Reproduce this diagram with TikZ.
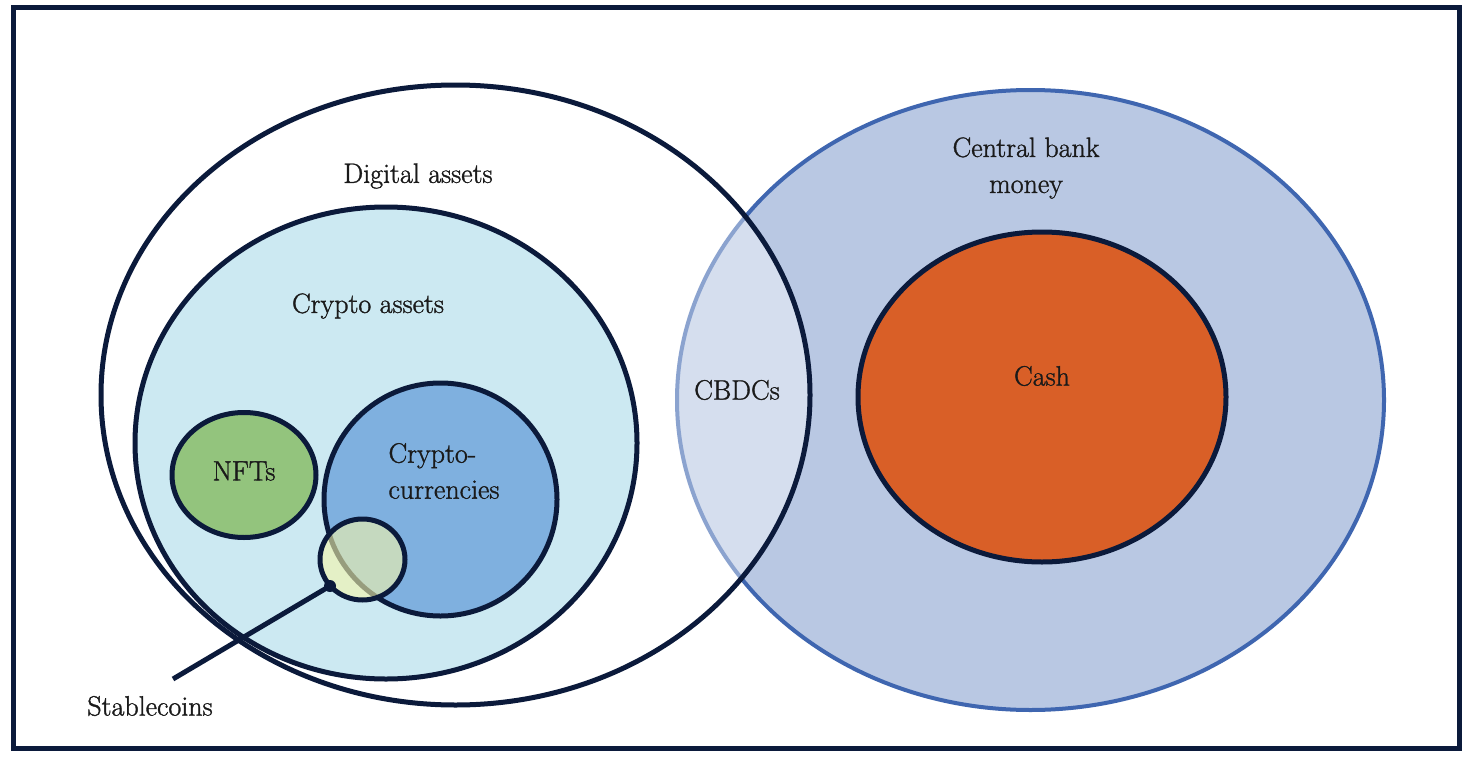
\documentclass[tikz,border=0pt]{standalone}
\usepackage{fontspec}
\newfontfamily\lmx{Latin Modern Roman}[FakeBold=1.2]
\usetikzlibrary{shapes.geometric}
\definecolor{navy}{HTML}{0B1A3B}
\definecolor{cbmfill}{HTML}{B9C8E3}
\definecolor{cbmline}{HTML}{3F66B0}
\definecolor{cryptofill}{HTML}{CCE9F2}
\definecolor{nftfill}{HTML}{93C47D}
\definecolor{ccfill}{HTML}{7FB0DF}
\definecolor{stablefill}{HTML}{F5F5AA}
\definecolor{cashfill}{HTML}{D95F27}
\definecolor{txt}{HTML}{1A1A1A}
\begin{document}
\begin{tikzpicture}[x=1pt,y=-1pt,
  blob/.style={ellipse, inner sep=0pt, outer sep=0pt, draw=navy, line width=5pt},
  lbl/.style={font=\lmx\fontsize{28}{36}\selectfont, text=txt, inner sep=0pt, align=center}]
\useasboundingbox (0,0) rectangle (1472,760);
\fill[white] (0,0) rectangle (1472,760);
\node[draw=navy, line width=5pt, minimum width=1446pt, minimum height=740pt, inner sep=0pt] (frame) at (736,378) {};
% central bank money
\node[ellipse, inner sep=0pt, fill=cbmfill, draw=cbmline, line width=4pt, minimum width=707pt, minimum height=620pt] (cbm) at (1030.5,400) {};
% digital assets (semi-transparent white over cbm)
\node[ellipse, inner sep=0pt, fill=white, fill opacity=0.4, minimum width=709pt, minimum height=620pt] (digfill) at (455.5,395) {};
\node[blob, minimum width=709pt, minimum height=620pt] (digital) at (455.5,395) {};
% crypto assets
\node[blob, fill=cryptofill, minimum width=502pt, minimum height=472pt] (crypto) at (386,443) {};
\node[blob, fill=nftfill, minimum width=144pt, minimum height=125pt] (nft) at (244,475) {};
\node[blob, fill=ccfill, minimum width=233pt, minimum height=233pt] (cc) at (440.5,499.5) {};
\node[blob, fill=stablefill, fill opacity=0.6, draw opacity=1, minimum width=85pt, minimum height=81pt] (stable) at (362.5,559.5) {};
% cash
\node[blob, fill=cashfill, minimum width=368pt, minimum height=330pt] (cash) at (1042,397) {};
% connector
\node[circle, fill=navy, inner sep=0pt, minimum size=12pt] (dot) at (330,586) {};
\coordinate (lend) at (173,679);
\draw[navy, line width=5pt] (dot.center) -- (lend);
% labels
\node[lbl] (tdig) at (418,176) {Digital assets};
\node[lbl] (tcrypto) at (368,306) {Crypto assets};
\node[lbl] (tnft) at (244,471) {NFTs};
\node[lbl, align=left] (tcc) at (444,471) {Crypto-\\currencies};
\node[lbl] (tcbdc) at (737,390) {CBDCs};
\node[lbl] (tcbm) at (1026,168) {Central bank\\money};
\node[lbl] (tcash) at (1042,376) {Cash};
\node[lbl] (tstable) at (150,706) {Stablecoins};
\end{tikzpicture}
\end{document}
